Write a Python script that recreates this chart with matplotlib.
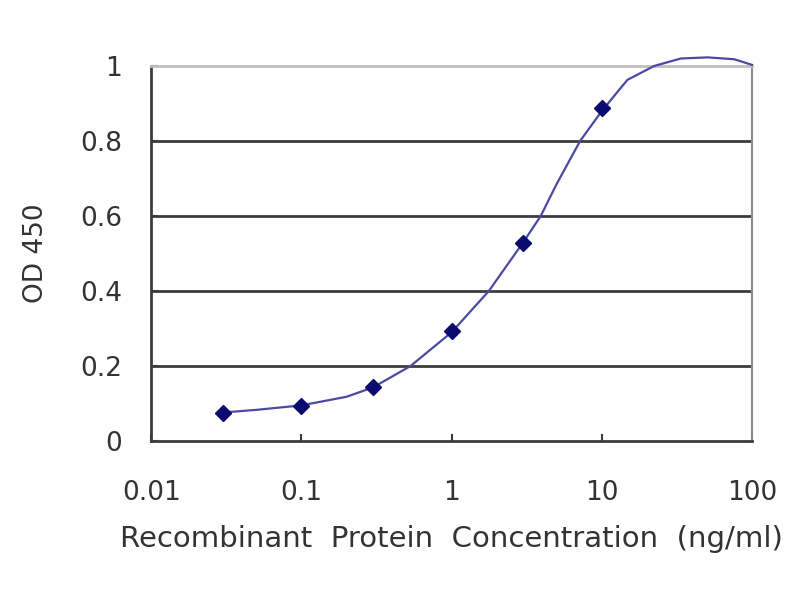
import matplotlib
matplotlib.use("Agg")
import matplotlib.pyplot as plt
from matplotlib.ticker import FixedLocator, NullLocator

# Measured points
conc = [0.03, 0.1, 0.3, 1, 3, 10]
od = [0.076, 0.094, 0.145, 0.294, 0.527, 0.887]

# Fitted curve
curve_x = [0.03, 0.05, 0.1, 0.2, 0.3, 0.533, 1, 1.77, 3, 3.92, 5, 7.17, 10, 14.8, 22.3, 33.6, 50.7, 76.2, 100]
curve_y = [0.076, 0.083, 0.095, 0.118, 0.143, 0.2, 0.29, 0.4, 0.53, 0.6, 0.685, 0.8, 0.88, 0.963, 1.0, 1.02, 1.023, 1.018, 1.003]

xticks = [0.01, 0.1, 1, 10, 100]
xticklabels = ["0.01", "0.1", "1", "10", "100"]
yticks = [0, 0.2, 0.4, 0.6, 0.8, 1]
yticklabels = ["0", "0.2", "0.4", "0.6", "0.8", "1"]

plt.rcParams['font.family'] = ['DejaVu Sans']

fig = plt.figure(figsize=(8, 6), dpi=100)
ax = fig.add_axes([0.189, 0.265, 0.751, 0.625])

ax.set_xscale('log')
ax.set_xlim(0.01, 100)
ax.set_ylim(0, 1)

for yv in yticks[1:-1]:
    ax.axhline(yv, color='#3c3c3c', lw=2, zorder=1)

ax.plot(curve_x, curve_y, color='#4a4aa0', lw=1.6, zorder=3, clip_on=False)
ax.plot(conc, od, linestyle='none', marker='D', markersize=8,
        color='#0a0a70', zorder=4, clip_on=False)

ax.xaxis.set_major_locator(FixedLocator(xticks))
ax.xaxis.set_minor_locator(NullLocator())
ax.set_xticklabels(xticklabels)
ax.set_yticks(yticks)
ax.set_yticklabels(yticklabels)

ax.tick_params(axis='both', which='major', direction='in', length=5, width=1.5,
               color='#3c3c3c', labelsize=19, labelcolor='#333333')
ax.tick_params(axis='x', pad=28)
ax.tick_params(axis='y', pad=21)

for s in ['left', 'bottom']:
    ax.spines[s].set_color('#3c3c3c')
    ax.spines[s].set_linewidth(2)
ax.spines['top'].set_color('#c0c0c0')
ax.spines['top'].set_linewidth(2)
ax.spines['right'].set_color('#8a8a8a')
ax.spines['right'].set_linewidth(1.5)

ax.set_xlabel("Recombinant  Protein  Concentration  (ng/ml)", fontsize=21,
              color='#333333')
ax.xaxis.set_label_coords(0.5, -0.225)
ax.set_ylabel("OD 450", fontsize=19, color='#333333')
ax.yaxis.set_label_coords(-0.17, 0.5)

fig.savefig("out.png", dpi=100)
